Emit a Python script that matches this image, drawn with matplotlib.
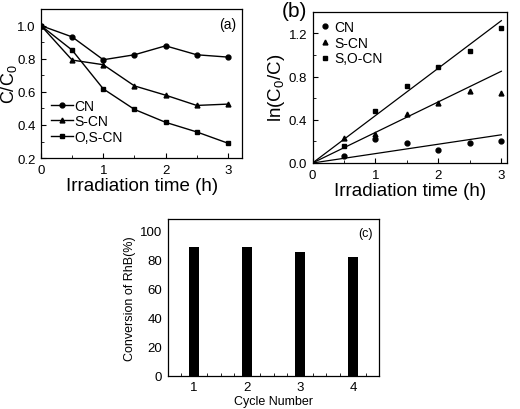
import numpy as np
import matplotlib.pyplot as plt
from matplotlib.ticker import MultipleLocator

plt.rcParams['font.family'] = ['Liberation Sans', 'DejaVu Sans']
plt.rcParams['mathtext.fontset'] = 'custom'
plt.rcParams['mathtext.rm'] = 'Liberation Sans'
plt.rcParams['mathtext.it'] = 'Liberation Sans'

# datos panel (a)
tiempo = [0, 0.5, 1, 1.5, 2, 2.5, 3]
cn_a = [1.0, 0.932, 0.794, 0.824, 0.878, 0.824, 0.81]
scn_a = [1.0, 0.792, 0.764, 0.636, 0.58, 0.518, 0.526]
oscn_a = [1.0, 0.852, 0.618, 0.494, 0.416, 0.358, 0.29]

# datos panel (b)
tiempo_b = [0.5, 1, 1.5, 2, 2.5, 3]
cn_b = [0.065, 0.225, 0.188, 0.123, 0.188, 0.203]
scn_b = [0.231, 0.271, 0.455, 0.554, 0.665, 0.649]
socn_b = [0.154, 0.477, 0.708, 0.886, 1.037, 1.252]
pendientes = [0.087, 0.283, 0.439]  # ajustes lineales

# datos panel (c)
ciclos = [1, 2, 3, 4]
conversion = [88.8, 88.8, 84.9, 81.9]

fig = plt.figure(figsize=(5.2, 4.1), dpi=100)

def estilo(ax, fs):
    ax.tick_params(direction='in', which='both', labelsize=fs, top=False, right=False)
    ax.tick_params(which='major', length=3.5, pad=4)
    ax.tick_params(which='minor', length=2)
    for s in ax.spines.values():
        s.set_linewidth(0.9)

# Panel (a)
ax1 = fig.add_axes([0.0788, 0.612, 0.387, 0.3634])
ax1.plot(tiempo, cn_a, 'k-o', ms=3.5, lw=1, label='CN')
ax1.plot(tiempo, scn_a, 'k-^', ms=3.5, lw=1, label='S-CN')
ax1.plot(tiempo, oscn_a, 'k-s', ms=3.2, lw=1, label='O,S-CN')
ax1.set_xlim(0, 3.23)
ax1.set_ylim(0.2, 1.1)
ax1.set_xticks([0, 1, 2, 3])
ax1.set_yticks([0.2, 0.4, 0.6, 0.8, 1.0])
ax1.xaxis.set_minor_locator(MultipleLocator(0.5))
ax1.yaxis.set_minor_locator(MultipleLocator(0.1))
estilo(ax1, 9.5)
ax1.set_xlabel('Irradiation time (h)', fontsize=13.5, labelpad=1)
ax1.set_ylabel('C/C$_0$', fontsize=13)
ax1.yaxis.set_label_coords(-0.11, 0.5)
ax1.text(0.97, 0.95, '(a)', transform=ax1.transAxes, ha='right', va='top', fontsize=10)
ax1.legend(loc='lower left', bbox_to_anchor=(0.0, 0.03), frameon=False, fontsize=10,
           handlelength=1.6, handletextpad=0.1, labelspacing=0.12, borderaxespad=0.3)

# Panel (b)
ax2 = fig.add_axes([0.601, 0.6, 0.374, 0.369])
ax2.plot(tiempo_b, cn_b, 'ko', ms=3.5, ls='none', label='CN')
ax2.plot(tiempo_b, scn_b, 'k^', ms=3.5, ls='none', label='S-CN')
ax2.plot(tiempo_b, socn_b, 'ks', ms=3.2, ls='none', label='S,O-CN')
xs = np.array([0, 3])
for k in pendientes:
    ax2.plot(xs, k * xs, 'k-', lw=0.9)
ax2.set_xlim(0, 3.09)
ax2.set_ylim(0, 1.4)
ax2.set_xticks([0, 1, 2, 3])
ax2.set_yticks([0.0, 0.4, 0.8, 1.2])
ax2.xaxis.set_minor_locator(MultipleLocator(0.5))
ax2.yaxis.set_minor_locator(MultipleLocator(0.2))
estilo(ax2, 9.5)
ax2.set_xlabel('Irradiation time (h)', fontsize=13.5, labelpad=1)
ax2.set_ylabel('ln(C$_0$/C)', fontsize=13.5, labelpad=1)
ax2.legend(loc='upper left', frameon=False, fontsize=10, handlelength=0.6,
           handletextpad=0.4, labelspacing=0.12, borderaxespad=0.2)
fig.text(0.542, 0.972, '(b)', fontsize=15, ha='left', va='center')

# Panel (c)
ax3 = fig.add_axes([0.3225, 0.0812, 0.407, 0.383])
ax3.bar(ciclos, conversion, width=0.2, color='black')
ax3.set_xlim(0.5, 4.5)
ax3.set_ylim(0, 108)
ax3.set_xticks(ciclos)
ax3.set_yticks([0, 20, 40, 60, 80, 100])
ax3.xaxis.set_minor_locator(MultipleLocator(0.25))
estilo(ax3, 9.5)
ax3.tick_params(axis='y', which='both', left=False)
ax3.set_xlabel('Cycle Number', fontsize=9, labelpad=1)
ax3.set_ylabel('Conversion of RhB(%)', fontsize=9, labelpad=3)
ax3.text(0.97, 0.95, '(c)', transform=ax3.transAxes, ha='right', va='top', fontsize=9)

fig.savefig('out.png', dpi=100)
